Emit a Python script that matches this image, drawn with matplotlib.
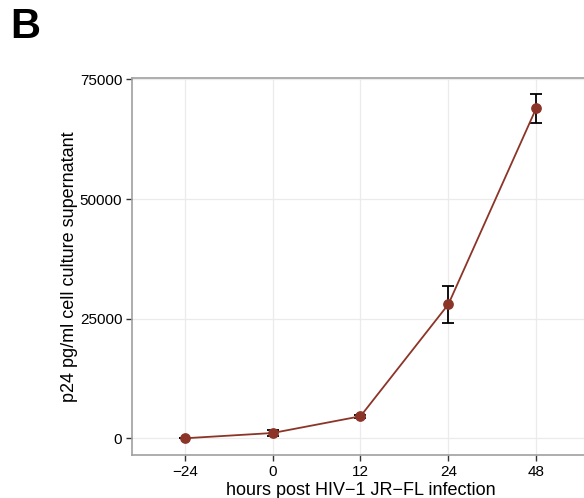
import matplotlib
matplotlib.use("Agg")
import matplotlib.pyplot as plt
import numpy as np

plt.rcParams['font.family'] = ['Liberation Sans', 'DejaVu Sans']

# data
hours = ['\u221224', '0', '12', '24', '48']
p24 = [0, 1100, 4600, 28000, 69000]
p24_err = [0, 600, 300, 3800, 3000]
y_ticks = [0, 25000, 50000, 75000]

line_col = '#8c3428'

fig = plt.figure(figsize=(5.84, 4.98), dpi=100)
ax = fig.add_axes([0.226, 0.0863, 0.7825, 0.757])

x = np.arange(len(hours))
ax.plot(x, p24, color=line_col, lw=1.3, zorder=3)
ax.errorbar(x, p24, yerr=p24_err, fmt='none', ecolor='black', elinewidth=1.3,
            capsize=4, capthick=1.3, zorder=2)
ax.scatter(x, p24, s=45, color=line_col, zorder=4)

ax.set_xlim(-0.6, len(hours) - 1 + 0.6)
ax.set_ylim(-3500, 75300)
ax.set_xticks(x)
ax.set_xticklabels(hours)
ax.set_yticks(y_ticks)
ax.set_yticklabels([str(v) for v in y_ticks])

ax.grid(True, color='#ebebeb', lw=0.9)
ax.set_axisbelow(True)
for s in ax.spines.values():
    s.set_color('#a0a0a0')
    s.set_linewidth(1.2)
ax.tick_params(axis='both', length=4, width=1, color='#333333', labelsize=11,
               labelcolor='black', pad=3)

ax.set_xlabel('hours post HIV\u22121 JR\u2212FL infection', fontsize=13, labelpad=2)
ax.set_ylabel('p24 pg/ml cell culture supernatant', fontsize=13, labelpad=1)

fig.text(0.017, 0.945, 'B', fontsize=30, fontweight='bold', va='center', ha='left')

fig.savefig('out.png', dpi=100)
